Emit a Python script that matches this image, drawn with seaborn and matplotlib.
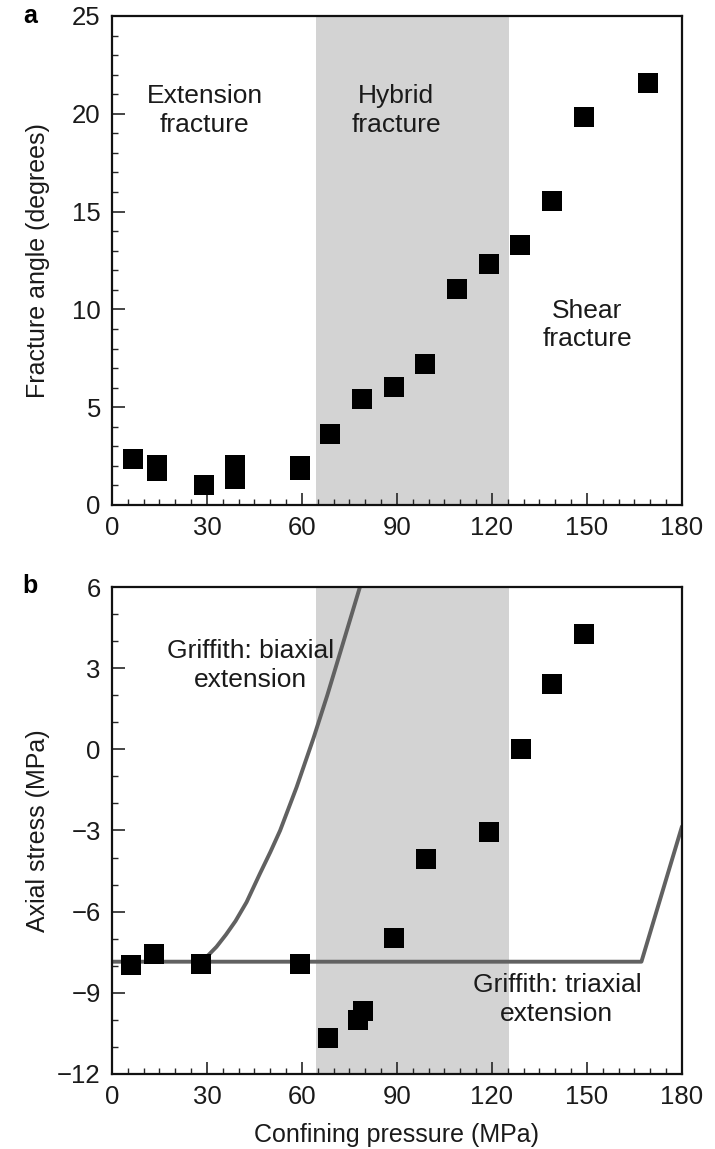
import matplotlib
matplotlib.use("Agg")
import matplotlib.pyplot as plt
import seaborn as sns
import pandas as pd
from matplotlib.ticker import MultipleLocator

# Style
sns.set_style("ticks")
plt.rcParams["font.family"] = ["Liberation Sans", "DejaVu Sans"]
plt.rcParams["xtick.direction"] = "in"
plt.rcParams["ytick.direction"] = "in"

# Panel a: fracture angle vs confining pressure
angle_pressure = [6.5, 14.2, 14.2, 29, 39, 39, 59.3, 59.3, 69, 79, 89, 99,
                  109, 119, 129, 139, 149, 169.3]
angle_deg = [2.34, 1.75, 2.05, 1.02, 2.06, 1.35, 2.0, 1.8, 3.63, 5.41, 6.02,
             7.22, 11.04, 12.32, 13.31, 15.53, 19.85, 21.55]

# Panel b: axial stress vs confining pressure
stress_pressure = [6.0, 13.4, 28.1, 59.4, 68.3, 77.6, 79.4, 89.2, 99.2,
                   119.0, 129.1, 139.1, 149.2]
stress_mpa = [-7.97, -7.57, -7.93, -7.93, -10.66, -9.99, -9.66, -6.97, -4.05,
              -3.04, 0.0, 2.43, 4.25]

# Griffith curves
biaxial_x = [28.3, 30.5, 33.0, 36.0, 39.0, 42.5, 46.7, 50.0, 53.1, 58.3,
             63.6, 68.0, 72.0, 78.3]
biaxial_y = [-7.8, -7.6, -7.3, -6.85, -6.35, -5.65, -4.6, -3.8, -3.0, -1.4,
             0.4, 2.0, 3.55, 6.0]
triaxial_x = [0, 167.2, 180]
triaxial_y = [-7.85, -7.85, -2.85]

# Hybrid fracture band
hybrid_band = (64.4, 125.5)

df_a = pd.DataFrame({"pressure": angle_pressure, "angle": angle_deg})
df_b = pd.DataFrame({"pressure": stress_pressure, "stress": stress_mpa})
df_bi = pd.DataFrame({"x": biaxial_x, "y": biaxial_y})
df_tri = pd.DataFrame({"x": triaxial_x, "y": triaxial_y})

TXT = "#1a1a1a"
SHADE = "#d3d3d3"
LINE = "#616161"
FS = 18.5
LFS = 18

fig = plt.figure(figsize=(7.15, 11.49), dpi=100)
ax_a = fig.add_axes([0.1566, 0.5605, 0.7972, 0.4256])
ax_b = fig.add_axes([0.1566, 0.0653, 0.7972, 0.4238])


def style_axis(ax):
    ax.set_xlim(0, 180)
    ax.xaxis.set_major_locator(MultipleLocator(30))
    ax.xaxis.set_minor_locator(MultipleLocator(5))
    for side in ["top", "right", "left", "bottom"]:
        ax.spines[side].set_linewidth(1.6)
        ax.spines[side].set_color("#111111")
    ax.tick_params(which="major", length=9, width=1.2, labelsize=FS,
                   labelcolor=TXT, pad=8)
    ax.tick_params(which="minor", length=4.5, width=1.0)
    ax.tick_params(top=False, right=False, which="both")


# ---- panel a ----
ax_a.axvspan(*hybrid_band, color=SHADE, lw=0, zorder=0)
sns.scatterplot(data=df_a, x="pressure", y="angle", marker="s", s=190,
                color="black", linewidth=0, ax=ax_a, zorder=3)
style_axis(ax_a)
ax_a.set_ylim(0, 25)
ax_a.yaxis.set_major_locator(MultipleLocator(5))
ax_a.yaxis.set_minor_locator(MultipleLocator(1))
ax_a.set_xlabel("")
ax_a.set_ylabel("Fracture angle (degrees)", fontsize=LFS, color=TXT)
ax_a.yaxis.set_label_coords(-0.108, 0.5)

ax_a.text(29.3, 20.15, "Extension\nfracture", ha="center", va="center",
          fontsize=19, color=TXT, linespacing=1.25)
ax_a.text(89.8, 20.15, "Hybrid\nfracture", ha="center", va="center",
          fontsize=19, color=TXT, linespacing=1.25)
ax_a.text(150, 9.2, "Shear\nfracture", ha="center", va="center",
          fontsize=19, color=TXT, linespacing=1.25)

# ---- panel b ----
ax_b.axvspan(*hybrid_band, color=SHADE, lw=0, zorder=0)
sns.lineplot(data=df_bi, x="x", y="y", estimator=None, sort=False,
             color=LINE, linewidth=2.8, ax=ax_b, zorder=2)
sns.lineplot(data=df_tri, x="x", y="y", estimator=None, sort=False,
             color=LINE, linewidth=2.8, ax=ax_b, zorder=2)
sns.scatterplot(data=df_b, x="pressure", y="stress", marker="s", s=190,
                color="black", linewidth=0, ax=ax_b, zorder=3)
style_axis(ax_b)
ax_b.set_ylim(-12, 6)
ax_b.yaxis.set_major_locator(MultipleLocator(3))
ax_b.yaxis.set_minor_locator(MultipleLocator(1))
ax_b.set_xlabel("Confining pressure (MPa)", fontsize=LFS, color=TXT, labelpad=10)
ax_b.set_ylabel("Axial stress (MPa)", fontsize=LFS, color=TXT)
ax_b.yaxis.set_label_coords(-0.108, 0.5)

ax_b.text(43.8, 3.1, "Griffith: biaxial\nextension", ha="center", va="center",
          fontsize=19, color=TXT, linespacing=1.25)
ax_b.text(140.5, -9.25, "Griffith: triaxial\nextension", ha="center",
          va="center", fontsize=19, color=TXT, linespacing=1.25)

# panel letters
fig.text(0.042, 0.986, "a", fontsize=18, fontweight="bold", ha="center",
         va="center", color="black")
fig.text(0.042, 0.490, "b", fontsize=18, fontweight="bold", ha="center",
         va="center", color="black")

fig.savefig("out.png", dpi=100)
